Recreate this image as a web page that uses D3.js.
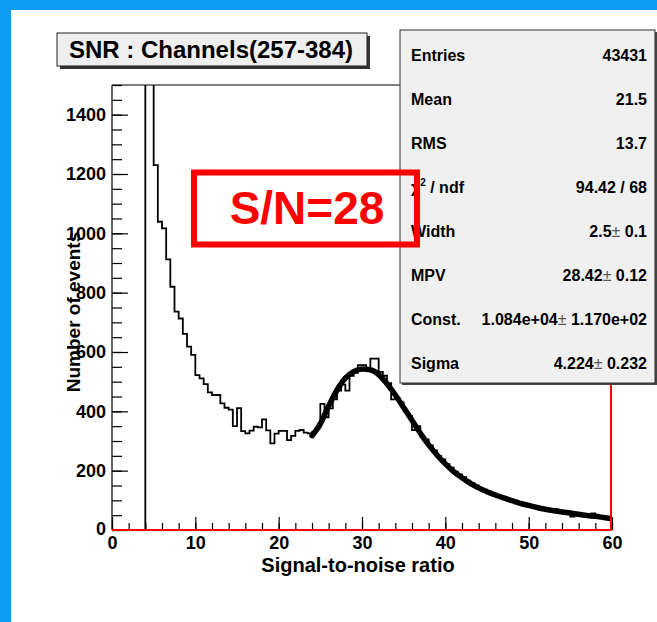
<!DOCTYPE html>
<html>
<head>
<meta charset="utf-8">
<script src="https://cdn.jsdelivr.net/npm/d3@7/dist/d3.min.js"></script>
<style>
  html, body { margin: 0; padding: 0; background: #0e9cf5; }
  svg { display: block; }
  text { font-family: "Liberation Sans", Arial, Helvetica, sans-serif; font-weight: bold; }
</style>
</head>
<body>
<script>
// ---------- DATA ----------
const binWidth = 0.5;
const binStart = 0;          // first bin lower edge
// counts per 0.5-wide bin, 0 .. 60 (120 bins)
const counts = [
  0, 0, 0, 0, 0, 0, 0, 0,                     // 0.0 - 3.5
  2600, 1800,                                 // 4.0, 4.5 (off scale)
  1230, 1039, 1017, 912, 820, 736, 713, 661, 618, 590,   // 5.0 - 9.5
  522, 511, 492, 464, 455, 455, 427, 412, 406, 350,      // 10.0 - 14.5
  411, 333, 326, 335, 348, 346, 373, 336, 292, 325,      // 15.0 - 19.5
  334, 334, 303, 317, 334, 337, 328, 326,                // 20.0 - 23.5
  330, 345, 425, 380, 410, 440, 470, 490, 470, 520,      // 24.0 - 28.5
  530, 556, 556, 540, 578, 578, 533, 520, 495, 440,      // 29.0 - 33.5
  445, 430, 400, 385, 337, 350, 315, 305, 285, 268,      // 34.0 - 38.5
  250, 238, 222, 210, 197, 187, 178, 166, 158, 150,      // 39.0 - 43.5
  142, 136, 130, 124, 118, 112, 108, 103, 99, 94,        // 44.0 - 48.5
  90, 86, 82, 80, 76, 73, 70, 68, 70, 63,                // 49.0 - 53.5
  60, 56, 45, 55, 52, 50, 48, 56, 46, 44,                // 54.0 - 58.5
  42, 38                                                 // 59.0 - 59.5
];
// fitted Landau x Gaussian curve
const fitX = [24, 25, 26, 27, 28, 29, 30, 31, 32, 33, 34, 35, 36, 37, 38, 39, 40, 41, 42,
              43, 44, 45, 46, 47, 48, 49, 50, 51, 52, 53, 54, 55, 56, 57, 58, 59, 60];
const fitY = [318, 358, 418, 472, 512, 534, 543, 540, 524, 493, 455, 413, 370, 326, 287, 253, 223, 197, 176,
              157, 142, 129, 118, 108, 99, 90, 83, 76, 70, 65, 61, 57, 53, 49, 46, 42, 38];

const xTicksMajor = [0, 10, 20, 30, 40, 50, 60];
const yTicksMajor = [0, 200, 400, 600, 800, 1000, 1200, 1400];

const titleText = "SNR : Channels(257-384)";
const xTitle = "Signal-to-noise ratio";
const yTitle = "Number of events";
const noteText = "S/N=28";
const statLabels = ["Entries", "Mean", "RMS", "chi2", "Width", "MPV", "Const.", "Sigma"];
const statValues = [["43431"], ["21.5"], ["13.7"], ["94.42 / 68"], ["2.5", "0.1"],
                    ["28.42", "0.12"], ["1.084e+04", "1.170e+02"], ["4.224", "0.232"]];

// ---------- LAYOUT ----------
const W = 657, H = 622;
const L = 112, R = 612, T = 85, B = 530;

const svg = d3.select("body").append("svg").attr("width", W).attr("height", H);
svg.append("rect").attr("x", 0).attr("y", 0).attr("width", W).attr("height", H).attr("fill", "#0e9cf5");
svg.append("rect").attr("x", 11).attr("y", 10).attr("width", W - 11).attr("height", H - 10).attr("fill", "#ffffff");

const x = d3.scaleLinear().domain([0, 60]).range([L, R]);
const y = d3.scaleLinear().domain([0, 1500]).range([B, T]);

svg.append("clipPath").attr("id", "plotclip")
  .append("rect").attr("x", L).attr("y", T).attr("width", R - L).attr("height", B - T);

// histogram
const histPts = counts.map((c, i) => [binStart + i * binWidth, c]);
histPts.push([binStart + counts.length * binWidth, counts[counts.length - 1]]);
const histLine = d3.line().x(d => x(d[0])).y(d => y(d[1])).curve(d3.curveStepAfter);
svg.append("path").attr("clip-path", "url(#plotclip)")
  .attr("d", histLine(histPts)).attr("fill", "none").attr("stroke", "#000").attr("stroke-width", 1.8);

// fit curve
const fitLine = d3.line().x((d, i) => x(fitX[i])).y(d => y(d)).curve(d3.curveMonotoneX);
svg.append("path").attr("clip-path", "url(#plotclip)")
  .attr("d", fitLine(fitY)).attr("fill", "none").attr("stroke", "#000")
  .attr("stroke-width", 5.5).attr("stroke-linejoin", "round").attr("stroke-linecap", "round");

// frame
svg.append("line").attr("x1", L).attr("x2", L).attr("y1", T).attr("y2", B).attr("stroke", "#000").attr("stroke-width", 1.2);
svg.append("line").attr("x1", L).attr("x2", R).attr("y1", T).attr("y2", T).attr("stroke", "#000").attr("stroke-width", 1.2);

// axes
const fontTick = 18;
const gx = svg.append("g").attr("transform", `translate(0,${B})`);
gx.call(d3.axisBottom(x).tickValues(d3.range(0, 61, 2)).tickSize(-7).tickFormat(""));
const gx2 = svg.append("g").attr("transform", `translate(0,${B})`);
gx2.call(d3.axisBottom(x).tickValues(xTicksMajor).tickSize(-13).tickPadding(6).tickFormat(d3.format("d")));
const gy = svg.append("g").attr("transform", `translate(${L},0)`);
gy.call(d3.axisLeft(y).tickValues(d3.range(0, 1501, 50)).tickSize(-10).tickFormat(""));
const gy2 = svg.append("g").attr("transform", `translate(${L},0)`);
gy2.call(d3.axisLeft(y).tickValues(yTicksMajor).tickSize(-16).tickPadding(6).tickFormat(d3.format("d")));
[gx, gx2, gy, gy2].forEach(g => {
  g.select(".domain").remove();
  g.selectAll(".tick line").attr("stroke", "#000").attr("stroke-width", 1.2);
  g.selectAll("text").attr("font-size", fontTick).attr("fill", "#000")
    .attr("font-family", '"Liberation Sans", Arial, sans-serif').attr("font-weight", "bold");
});
gy2.selectAll(".tick").filter(d => d === 0).select("text").attr("dy", "0.25em");

// red axis lines
svg.append("line").attr("x1", L).attr("x2", R).attr("y1", B).attr("y2", B).attr("stroke", "#ff0000").attr("stroke-width", 2.2);
svg.append("line").attr("x1", R - 1).attr("x2", R - 1).attr("y1", T).attr("y2", B).attr("stroke", "#ff0000").attr("stroke-width", 2);

// axis titles
svg.append("text").attr("x", 358).attr("y", 572).attr("text-anchor", "middle")
  .attr("font-size", 20).text(xTitle);
svg.append("text").attr("transform", "translate(80,312) rotate(-90)").attr("text-anchor", "middle")
  .attr("font-size", 19).text(yTitle);

// title box
svg.append("rect").attr("x", 60).attr("y", 36).attr("width", 310).attr("height", 33).attr("fill", "#333");
svg.append("rect").attr("x", 57).attr("y", 33).attr("width", 310).attr("height", 33)
  .attr("fill", "#efefef").attr("stroke", "#222").attr("stroke-width", 1);
svg.append("text").attr("x", 211).attr("y", 58).attr("text-anchor", "middle").attr("font-size", 24).text(titleText);

// stats box
const sx = 400, sy = 30, sw = 255, sh = 353;
svg.append("rect").attr("x", sx + 2).attr("y", sy + 2).attr("width", sw).attr("height", sh).attr("fill", "#444");
svg.append("rect").attr("x", sx).attr("y", sy).attr("width", sw).attr("height", sh)
  .attr("fill", "#f0f0f0").attr("stroke", "#333").attr("stroke-width", 1);
const rowY = d3.scaleLinear().domain([0, 7]).range([55, 363]);
statLabels.forEach((lab, i) => {
  const t = svg.append("text").attr("x", 411).attr("y", rowY(i) + 6).attr("font-size", 16);
  if (lab === "chi2") {
    t.append("tspan").text("\u03c7");
    t.append("tspan").attr("font-size", 10).attr("dy", -7).text("2");
    t.append("tspan").attr("dy", 7).text(" / ndf");
  } else {
    t.text(lab);
  }
  const v = svg.append("text").attr("x", 647).attr("y", rowY(i) + 6).attr("font-size", 16).attr("text-anchor", "end");
  const vals = statValues[i];
  if (vals.length === 1) {
    v.text(vals[0]);
  } else {
    v.append("tspan").text(vals[0]);
    v.append("tspan").attr("font-weight", "normal").attr("fill", "#555").text("\u00b1");
    v.append("tspan").text(" " + vals[1]);
  }
});

// red annotation box
svg.append("rect").attr("x", 194).attr("y", 172.5).attr("width", 223).attr("height", 72)
  .attr("fill", "none").attr("stroke", "#ff0000").attr("stroke-width", 6);
svg.append("text").attr("x", 307).attr("y", 224).attr("text-anchor", "middle")
  .attr("font-size", 46).attr("fill", "#ff0000").text(noteText);
</script>
</body>
</html>
